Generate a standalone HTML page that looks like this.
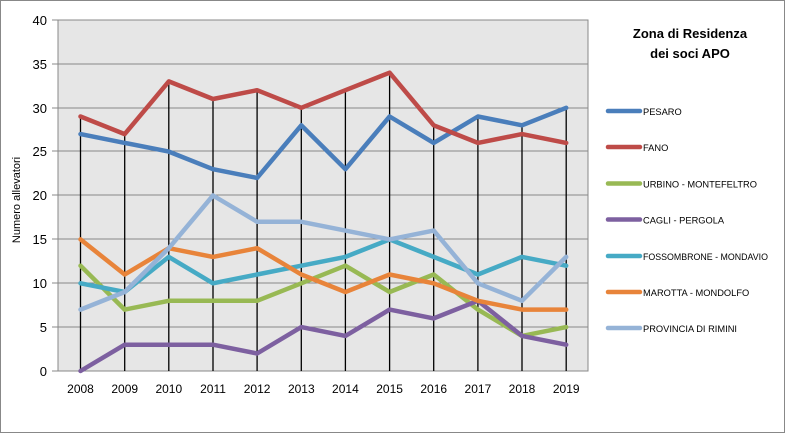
<!DOCTYPE html><html><head><style>body{margin:0;background:#fff}svg text{font-family:"Liberation Sans",sans-serif}</style></head><body>
<svg width="785" height="433" xmlns="http://www.w3.org/2000/svg">
<rect x="0.5" y="0.5" width="784" height="432" fill="#fff" stroke="#888"/>
<rect x="58" y="20" width="530" height="351" fill="#e6e6e6" stroke="#888"/>
<g stroke="#888" stroke-width="1">
<line x1="58" x2="588" y1="64" y2="64"/><line x1="58" x2="588" y1="108" y2="108"/><line x1="58" x2="588" y1="151" y2="151"/><line x1="58" x2="588" y1="195" y2="195"/><line x1="58" x2="588" y1="239" y2="239"/><line x1="58" x2="588" y1="283" y2="283"/><line x1="58" x2="588" y1="327" y2="327"/>
<line x1="52" x2="58" y1="20" y2="20"/><line x1="52" x2="58" y1="64" y2="64"/><line x1="52" x2="58" y1="108" y2="108"/><line x1="52" x2="58" y1="151" y2="151"/><line x1="52" x2="58" y1="195" y2="195"/><line x1="52" x2="58" y1="239" y2="239"/><line x1="52" x2="58" y1="283" y2="283"/><line x1="52" x2="58" y1="327" y2="327"/><line x1="52" x2="58" y1="371" y2="371"/>
</g>
<g font-size="13" fill="#000" text-anchor="end">
<text x="47" y="25">40</text><text x="47" y="69">35</text><text x="47" y="113">30</text><text x="47" y="156">25</text><text x="47" y="200">20</text><text x="47" y="244">15</text><text x="47" y="288">10</text><text x="47" y="332">5</text><text x="47" y="376">0</text>
</g>
<text transform="translate(20,200) rotate(-90)" font-size="11" text-anchor="middle">Numero allevatori</text>
<g stroke="#000" stroke-width="1.3">
<line x1="80.5" x2="80.5" y1="116.5" y2="371"/>
<line x1="124.7" x2="124.7" y1="134.1" y2="371"/>
<line x1="168.8" x2="168.8" y1="81.4" y2="371"/>
<line x1="213" x2="213" y1="99" y2="371"/>
<line x1="257.1" x2="257.1" y1="90.2" y2="371"/>
<line x1="301.3" x2="301.3" y1="107.8" y2="371"/>
<line x1="345.4" x2="345.4" y1="90.2" y2="371"/>
<line x1="389.6" x2="389.6" y1="72.7" y2="371"/>
<line x1="433.7" x2="433.7" y1="125.3" y2="371"/>
<line x1="477.9" x2="477.9" y1="116.5" y2="371"/>
<line x1="522" x2="522" y1="125.3" y2="371"/>
<line x1="566.2" x2="566.2" y1="107.8" y2="371"/>
</g>
<g font-size="12" text-anchor="middle">
<text x="80.5" y="393">2008</text><text x="124.7" y="393">2009</text><text x="168.8" y="393">2010</text><text x="213" y="393">2011</text><text x="257.1" y="393">2012</text><text x="301.3" y="393">2013</text><text x="345.4" y="393">2014</text><text x="389.6" y="393">2015</text><text x="433.7" y="393">2016</text><text x="477.9" y="393">2017</text><text x="522" y="393">2018</text><text x="566.2" y="393">2019</text>
</g>
<g fill="none" stroke-width="4.5" stroke-linejoin="round" stroke-linecap="round">
<polyline stroke="#4a7ebb" points="80.5,134.1 124.7,142.9 168.8,151.6 213,169.2 257.1,177.9 301.3,125.3 345.4,169.2 389.6,116.5 433.7,142.9 477.9,116.5 522,125.3 566.2,107.8"/>
<polyline stroke="#be4b48" points="80.5,116.5 124.7,134.1 168.8,81.4 213,99 257.1,90.2 301.3,107.8 345.4,90.2 389.6,72.7 433.7,125.3 477.9,142.9 522,134.1 566.2,142.9"/>
<polyline stroke="#98b954" points="80.5,265.7 124.7,309.6 168.8,300.8 213,300.8 257.1,300.8 301.3,283.3 345.4,265.7 389.6,292 433.7,274.5 477.9,309.6 522,335.9 566.2,327.1"/>
<polyline stroke="#7d60a0" points="80.5,371 124.7,344.7 168.8,344.7 213,344.7 257.1,353.5 301.3,327.1 345.4,335.9 389.6,309.6 433.7,318.4 477.9,300.8 522,335.9 566.2,344.7"/>
<polyline stroke="#46aac5" points="80.5,283.3 124.7,292 168.8,256.9 213,283.3 257.1,274.5 301.3,265.7 345.4,256.9 389.6,239.4 433.7,256.9 477.9,274.5 522,256.9 566.2,265.7"/>
<polyline stroke="#e8843a" points="80.5,239.4 124.7,274.5 168.8,248.2 213,256.9 257.1,248.2 301.3,274.5 345.4,292 389.6,274.5 433.7,283.3 477.9,300.8 522,309.6 566.2,309.6"/>
<polyline stroke="#95b3d7" points="80.5,309.6 124.7,292 168.8,248.2 213,195.5 257.1,221.8 301.3,221.8 345.4,230.6 389.6,239.4 433.7,230.6 477.9,283.3 522,300.8 566.2,256.9"/>
</g>
<g stroke-width="4.5" stroke-linecap="round">
<line x1="608" x2="640" y1="111" y2="111" stroke="#4a7ebb"/>
<line x1="608" x2="640" y1="147" y2="147" stroke="#be4b48"/>
<line x1="608" x2="640" y1="183.5" y2="183.5" stroke="#98b954"/>
<line x1="608" x2="640" y1="219.5" y2="219.5" stroke="#7d60a0"/>
<line x1="608" x2="640" y1="256" y2="256" stroke="#46aac5"/>
<line x1="608" x2="640" y1="292" y2="292" stroke="#e8843a"/>
<line x1="608" x2="640" y1="328" y2="328" stroke="#95b3d7"/>
</g>
<g font-size="9.3">
<text x="643" y="115">PESARO</text><text x="643" y="151">FANO</text><text x="643" y="187.5">URBINO - MONTEFELTRO</text><text x="643" y="223.5">CAGLI - PERGOLA</text><text x="643" y="260" textLength="125" lengthAdjust="spacingAndGlyphs">FOSSOMBRONE  - MONDAVIO</text><text x="643" y="296">MAROTTA  - MONDOLFO</text><text x="643" y="332">PROVINCIA DI RIMINI</text>
</g>
<text x="690" y="38" font-size="13" font-weight="bold" text-anchor="middle">Zona di Residenza</text>
<text x="690" y="58" font-size="13" font-weight="bold" text-anchor="middle">dei soci APO</text>
</svg></body></html>
